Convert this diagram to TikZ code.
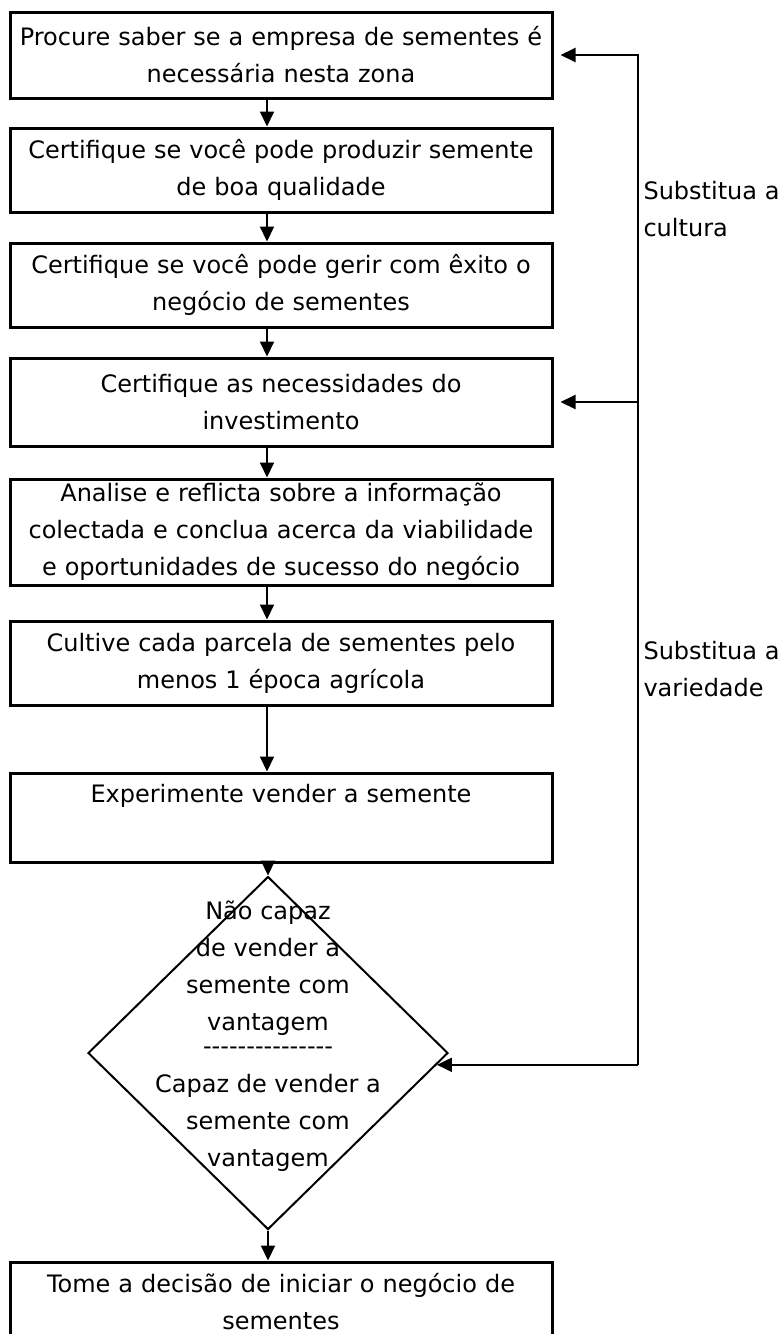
\documentclass[tikz,border=0pt]{standalone}
\usepackage{fontspec}
\setmainfont{DejaVu Sans}
\usetikzlibrary{shapes.geometric,arrows.meta}

\begin{document}
\begin{tikzpicture}
	[x=1pt, y=-1pt, font=\fontsize{24}{37}\selectfont,
	box/.style={draw, line width=3pt, minimum width=542pt, text width=530pt, align=center, inner sep=0pt},
	flow/.style={line width=2pt, -{Triangle[length=15pt,width=14pt]}}]
	\useasboundingbox (0,0) rectangle (777,1334);
	% main column
	\node[box, minimum height=86pt] (procure) at (281,55) {Procure saber se a empresa de sementes é\\necessária nesta zona};
	\node[box, minimum height=84pt] (qualidade) at (281,170) {Certifique se você pode produzir semente\\de boa qualidade};
	\node[box, minimum height=84pt] (gerir) at (281,285) {Certifique se você pode gerir com êxito o\\negócio de sementes};
	\node[box, minimum height=88pt] (investimento) at (281,402) {Certifique as necessidades do\\investimento};
	\node[box, minimum height=106pt] (analise) at (281,532) {Analise e reflicta sobre a informação\\colectada e conclua acerca da viabilidade\\e oportunidades de sucesso do negócio};
	\node[box, minimum height=84pt] (cultive) at (281,663) {Cultive cada parcela de sementes pelo\\menos 1 época agrícola};
	\node[box, minimum height=89pt] (vender) at (281,817.5) {Experimente vender a semente\\[12pt]\mbox{}};
	\node[draw, diamond, line width=2pt, minimum width=360pt, minimum height=353pt, inner sep=0pt] (capaz) at (268,1053) {};
	\node[align=center] (capaztxt) at (268,1036) {Não capaz\\de vender a\\semente com\\vantagem\\[-13pt]-{}-{}-{}-{}-{}-{}-{}-{}-{}-{}-{}-{}-{}-{}-\\[1pt]Capaz de vender a\\semente com\\vantagem};
	\node[box, minimum height=80pt] (decisao) at (281,1302) {Tome a decisão de iniciar o negócio de\\sementes};
	% arrows down
	\coordinate (axis) at (267,0);
	\foreach \a/\b in {procure/qualidade, qualidade/gerir, gerir/investimento, investimento/analise, analise/cultive, cultive/vender}
	{	\draw[flow] (\a.south -| axis) -- (\b.north -| axis);
		}
	\draw[flow] (vender.south -| capaz.north) -- (capaz.north);
	\draw[flow] (capaz.south) -- (decisao.north -| capaz.south);
	% feedback loop
	\coordinate (back) at (638,0);
	\coordinate (ret) at (capaz.-4.8 -| back);
	\draw[flow, shorten >=7pt] (ret) |- (procure.east);
	\draw[flow, shorten >=7pt] (ret |- investimento.east) -- (investimento.east);
	\draw[flow] (ret) -- (capaz.-4.8);
	\node[anchor=west, align=left] (cultura) at (640,209) {Substitua a\\cultura};
	\node[anchor=west, align=left] (variedade) at (640,669) {Substitua a\\variedade};
	\end{tikzpicture}
\end{document}
